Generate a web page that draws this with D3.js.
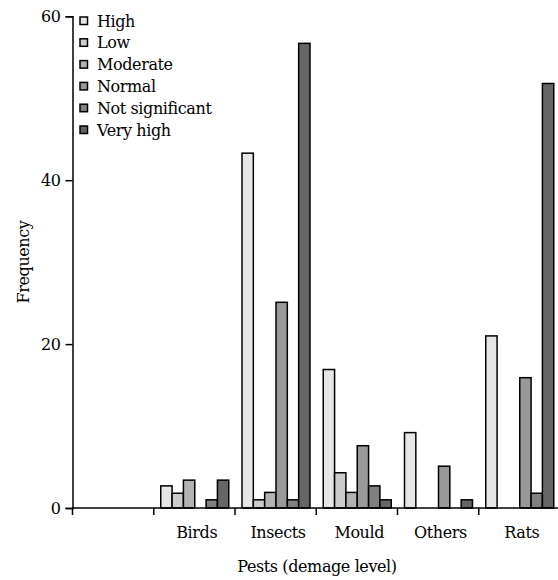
<!DOCTYPE html>
<html>
<head>
<meta charset="utf-8">
<script src="https://cdn.jsdelivr.net/npm/d3@7"></script>
<style>
  body { margin: 0; background: #fff; }
  svg text { letter-spacing: -0.4px; }
</style>
</head>
<body>
<div id="chart"></div>
<script>
// Pests on the x axis (first slot is empty in the original)
const categories = ['', 'Birds', 'Insects', 'Mould', 'Others', 'Rats'];
const levels = ['High', 'Low', 'Moderate', 'Normal', 'Not significant', 'Very high'];
const colors = ['#e6e6e6', '#cccccc', '#b3b3b3', '#999999', '#808080', '#666666'];

// frequency per damage level, one value per category
const high           = [0, 2.7, 43.3, 16.9, 9.2, 21.0];
const low            = [0, 1.8, 1.0, 4.3, 0, 0];
const moderate       = [0, 3.4, 1.9, 1.9, 0, 0];
const normal         = [0, 0, 25.1, 7.6, 5.1, 15.9];
const notSignificant = [0, 1.0, 1.0, 2.7, 0, 1.8];
const veryHigh       = [0, 3.4, 56.7, 1.0, 1.0, 51.8];

const yTicks = [0, 20, 40, 60];

const font = "'DejaVu Serif', serif";
const fs = 16;

const series = [high, low, moderate, normal, notSignificant, veryHigh];
const data = [];
categories.forEach((c, i) => {
  levels.forEach((l, j) => {
    if (series[j][i] > 0) data.push({ cat: c, level: l, value: series[j][i] });
  });
});

const width = 558, height = 580;
const svg = d3.select('#chart').append('svg')
  .attr('width', width)
  .attr('height', height)
  .attr('font-family', font);

const x0 = d3.scaleBand().domain(categories).range([72.5, 560]).padding(0);
const x1 = d3.scaleBand().domain(levels).range([7, 75]).padding(0);
const y = d3.scaleLinear().domain([0, 60]).range([508, 16.3]);
const color = d3.scaleOrdinal().domain(levels).range(colors);

// bars
svg.append('g')
  .selectAll('rect')
  .data(data)
  .enter().append('rect')
  .attr('x', d => x0(d.cat) + x1(d.level))
  .attr('y', d => y(d.value))
  .attr('width', x1.bandwidth())
  .attr('height', d => y(0) - y(d.value))
  .attr('fill', d => color(d.level))
  .attr('stroke', '#000')
  .attr('stroke-width', 1.5);

// Y axis
const yAxis = svg.append('g')
  .attr('transform', 'translate(72.5,0)')
  .call(d3.axisLeft(y).tickValues(yTicks).tickSize(7).tickPadding(5))
  .attr('font-family', font)
  .attr('font-size', fs);
yAxis.selectAll('text').attr('fill', '#000');
yAxis.selectAll('line, path').attr('stroke', '#000').attr('stroke-width', 1.5);

// X axis: ticks sit on band edges
const xAxis = svg.append('g')
  .attr('transform', `translate(0,${y(0)})`);
xAxis.append('line')
  .attr('x1', 72.5).attr('x2', 560)
  .attr('stroke', '#000').attr('stroke-width', 1.5);
xAxis.selectAll('line.tick')
  .data(categories)
  .enter().append('line')
  .attr('class', 'tick')
  .attr('x1', d => x0(d)).attr('x2', d => x0(d))
  .attr('y1', 0).attr('y2', 7)
  .attr('stroke', '#000').attr('stroke-width', 1.5);
xAxis.selectAll('text')
  .data(categories)
  .enter().append('text')
  .attr('x', d => x0(d) + 43)
  .attr('y', 30)
  .attr('text-anchor', 'middle')
  .attr('font-size', fs)
  .text(d => d);

// axis titles
svg.append('text')
  .attr('x', 317)
  .attr('y', 572)
  .attr('text-anchor', 'middle')
  .attr('font-size', fs)
  .text('Pests (demage level)');

svg.append('text')
  .attr('transform', 'translate(29,262) rotate(-90)')
  .attr('text-anchor', 'middle')
  .attr('font-size', fs)
  .text('Frequency');

// legend
const legend = svg.append('g')
  .selectAll('g')
  .data(levels)
  .enter().append('g')
  .attr('transform', (d, i) => `translate(80,${20.5 + i * 21.8})`);
legend.append('rect')
  .attr('x', 0).attr('y', -3.5)
  .attr('width', 7.5).attr('height', 7.5)
  .attr('fill', d => color(d))
  .attr('stroke', '#000')
  .attr('stroke-width', 1.5);
legend.append('text')
  .attr('x', 17)
  .attr('y', 6)
  .attr('font-size', fs)
  .text(d => d);
</script>
</body>
</html>
